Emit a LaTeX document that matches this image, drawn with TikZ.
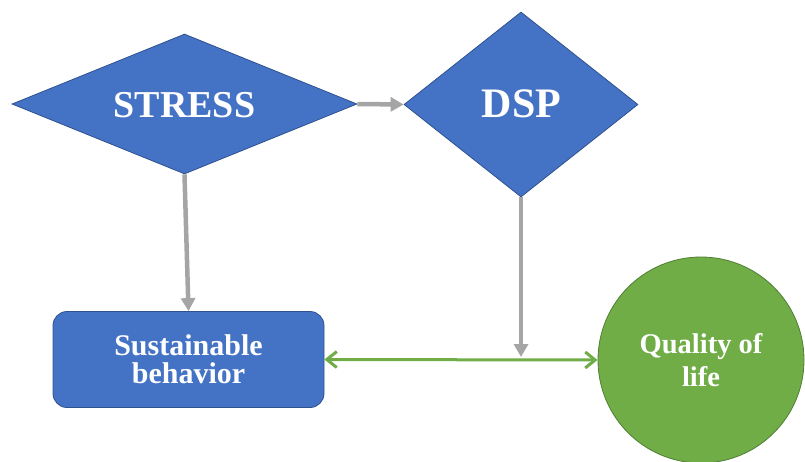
\documentclass[tikz,border=0pt]{standalone}
\usepackage{fontspec}
\setmainfont{Liberation Serif}
\usetikzlibrary{shapes.geometric,arrows.meta}
\definecolor{ofblue}{HTML}{4472C4}
\definecolor{ofblueline}{HTML}{2F528F}
\definecolor{ofgreen}{HTML}{70AD47}
\definecolor{ofgreenline}{HTML}{507E32}
\definecolor{ofgray}{HTML}{A5A5A5}
\tikzset{
  dia/.style={diamond, fill=ofblue, draw=ofblueline, line width=0.8pt, inner sep=0pt, text=white, font=\bfseries},
  boxnode/.style={rectangle, rounded corners=14pt, fill=ofblue, draw=ofblueline, line width=0.8pt, inner sep=0pt, text=white, align=center, minimum width=271pt, minimum height=96pt},
  roundnode/.style={circle, fill=ofgreen, draw=ofgreenline, line width=0.8pt, inner sep=0pt, text=white, align=center, minimum size=206pt},
  grayarrow/.style={draw=ofgray, line width=4.5pt, -{Triangle[length=13pt,width=14pt]}},
  greenarrow/.style={draw=ofgreen, line width=3pt, {Straight Barb[length=10pt,width=16pt]}-{Straight Barb[length=10pt,width=16pt]}}
}
\begin{document}
\begin{tikzpicture}[x=1pt,y=1pt]
\useasboundingbox (0,0) rectangle (805,-461);
\begin{scope}
\clip (0,0) rectangle (805,-461);
\node[dia, minimum width=345pt, minimum height=140pt] (stress) at (184.5,-104) {};
\node[font=\bfseries\fontsize{38}{40}\selectfont, text=white] (stresst) at (184.5,-105) {STRESS};
\node[dia, minimum width=234pt, minimum height=185pt] (dsp) at (521,-104.5) {};
\node[font=\bfseries\fontsize{42}{44}\selectfont, text=white] (dspt) at (521.5,-104) {DSP};
\node[boxnode, font=\bfseries\fontsize{30}{28}\selectfont] (sb) at (188.5,-359.5) {Sustainable\\behavior};
\node[roundnode, font=\bfseries\fontsize{28.5}{33}\selectfont] (ql) at (701,-360) {Quality of\\life};
\coordinate (m) at (dsp.south |- 0,-357);
\draw[grayarrow] (stress.east) -- (dsp.west);
\draw[grayarrow] (stress.south) -- (sb.north);
\draw[greenarrow] (sb.east) -- (ql.west);
\draw[grayarrow] (dsp.south) -- (m);
\end{scope}
\end{tikzpicture}
\end{document}
